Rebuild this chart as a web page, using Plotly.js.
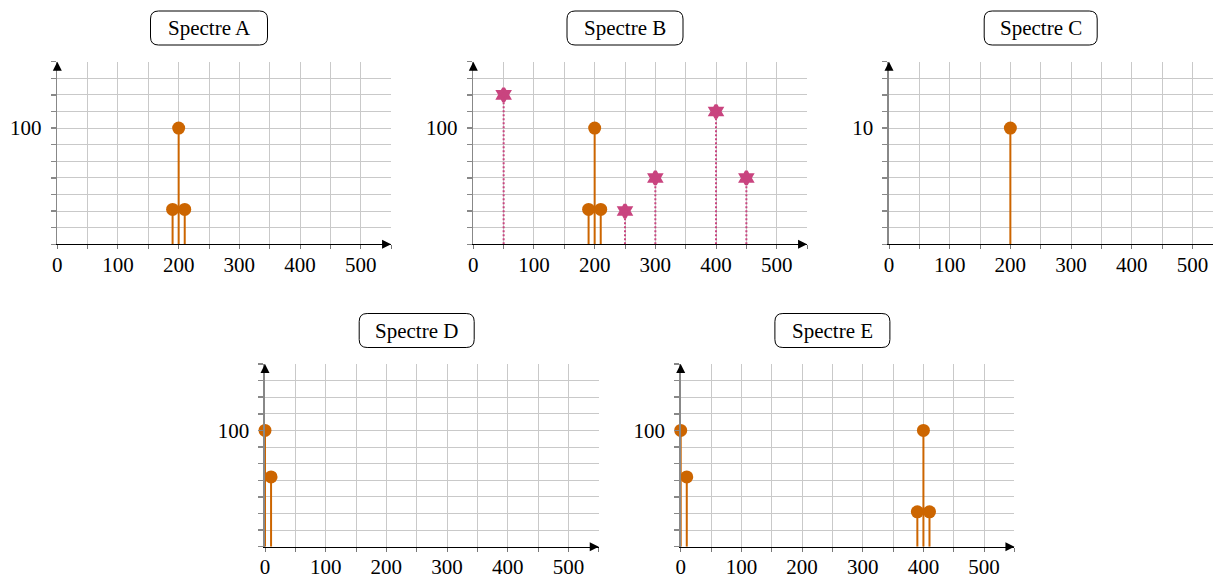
<!DOCTYPE html>
<html>
<head>
<meta charset="utf-8">
<script src="https://cdn.plot.ly/plotly-3.0.1.min.js"></script>
<style>html,body{margin:0;padding:0;background:#fff;}#chart{width:1213px;height:579px;}</style>
</head>
<body>
<div id="chart"></div>
<script>
// ---- data ----
const panelTitles = ["Spectre A", "Spectre B", "Spectre C", "Spectre D", "Spectre E"];
const yTickLabels = ["100", "100", "10", "100", "100"];
const yTickValues = [100, 100, 10, 100, 100];

const spectreA_x = [190, 200, 210];
const spectreA_y = [30, 100, 30];

const spectreB_x = [190, 200, 210];
const spectreB_y = [30, 100, 30];
const spectreB_pink_x = [50, 250, 300, 400, 450];
const spectreB_pink_y = [128.6, 28.6, 57.1, 114.3, 57.1];

const spectreC_x = [200];
const spectreC_y = [10];

const spectreD_x = [0, 10];
const spectreD_y = [100, 60];

const spectreE_x = [0, 10, 390, 400, 410];
const spectreE_y = [100, 60, 30, 100, 30];

const xTickValues = [0, 100, 200, 300, 400, 500];

// ---- layout geometry (pixels) ----
const W = 1213, H = 579;
const pxPerUnit = 0.6068;
const panels = [
  {x0: 57.3, top: 61.7, bottom: 244.3, xmax: 550},
  {x0: 473.3, top: 61.7, bottom: 244.3, xmax: 550},
  {x0: 889.0, top: 61.7, bottom: 244.3, xmax: null},
  {x0: 265.0, top: 364.0, bottom: 546.7, xmax: 550},
  {x0: 680.7, top: 364.0, bottom: 546.7, xmax: 550}
];
const titleY = [28, 28, 28, 330.5, 330.5];
const boxW = [117, 116, 113, 115, 115];
const boxH = 34;

const orange = "#cc6500";
const pink = "#c9447f";
const fontFam = "Liberation Serif, Times New Roman, serif";

function stems(xs, ys) {
  const sx = [], sy = [];
  xs.forEach((x, i) => { sx.push(x, x, null); sy.push(0, ys[i], null); });
  return {sx, sy};
}

const series = [
  [{x: spectreA_x, y: spectreA_y, kind: "o"}],
  [{x: spectreB_x, y: spectreB_y, kind: "o"}, {x: spectreB_pink_x, y: spectreB_pink_y, kind: "p"}],
  [{x: spectreC_x, y: spectreC_y, kind: "o"}],
  [{x: spectreD_x, y: spectreD_y, kind: "o"}],
  [{x: spectreE_x, y: spectreE_y, kind: "o"}]
];

const traces = [];
const layout = {
  width: W, height: H,
  margin: {l: 0, r: 0, t: 0, b: 0},
  paper_bgcolor: "#fff", plot_bgcolor: "#fff",
  showlegend: false,
  font: {family: fontFam, size: 21, color: "#000"},
  annotations: [], shapes: []
};

panels.forEach((p, i) => {
  const n = i + 1;
  const xa = "x" + (n === 1 ? "" : n), ya = "y" + (n === 1 ? "" : n);
  const xk = "xaxis" + (n === 1 ? "" : n), yk = "yaxis" + (n === 1 ? "" : n);
  const x1px = p.xmax === null ? W : p.x0 + p.xmax * pxPerUnit;
  const xmax = p.xmax === null ? (W - p.x0) / pxPerUnit : p.xmax;
  const yv = yTickValues[i];
  const ystep = yv / 7;
  const ymax = ystep * 11;

  layout[xk] = {
    domain: [p.x0 / W, x1px / W], anchor: ya,
    range: [0, xmax], fixedrange: true,
    tickmode: "array", tickvals: xTickValues, ticktext: xTickValues.map(String),
    ticks: "outside", ticklen: 4, tickcolor: "#777", tickwidth: 1,
    showgrid: true, gridcolor: "#c9c9c9", gridwidth: 1,
    minor: {tickmode: "linear", tick0: 0, dtick: 50, ticks: "outside", ticklen: 4, tickcolor: "#777", showgrid: true, gridcolor: "#c9c9c9", gridwidth: 1},
    showline: true, linecolor: "#000", linewidth: 1,
    zeroline: false, ticklabelstandoff: -3
  };
  layout[yk] = {
    domain: [1 - p.bottom / H, 1 - p.top / H], anchor: xa,
    range: [0, ymax], fixedrange: true,
    tickmode: "array", tickvals: [yv], ticktext: [yTickLabels[i]],
    ticks: "outside", ticklen: 5, tickcolor: "#888", tickwidth: 1.5,
    showgrid: true, gridcolor: "#c9c9c9", gridwidth: 1,
    minor: {tickmode: "linear", tick0: 0, dtick: ystep, ticks: "outside", ticklen: 5, tickcolor: "#888", tickwidth: 1.5, showgrid: true, gridcolor: "#c9c9c9", gridwidth: 1},
    showline: true, linecolor: "#888", linewidth: 1.6,
    zeroline: false, ticklabelstandoff: 5
  };

  series[i].forEach(s => {
    const st = stems(s.x, s.y);
    const col = s.kind === "o" ? orange : pink;
    traces.push({
      type: "scatter", mode: "lines", x: st.sx, y: st.sy, xaxis: xa, yaxis: ya,
      line: {color: col, width: 2, dash: s.kind === "o" ? "solid" : "2px,2px"},
      hoverinfo: "skip", cliponaxis: false
    });
    traces.push({
      type: "scatter", mode: "markers", x: s.x, y: s.y, xaxis: xa, yaxis: ya,
      marker: s.kind === "o"
        ? {color: col, size: 13, symbol: "circle", line: {width: 0}}
        : {color: col, size: 10, symbol: "hexagram", line: {width: 3, color: col}},
      cliponaxis: false
    });
  });

  // axis arrowheads
  layout.annotations.push({
    xref: xa, yref: ya, x: 0, y: ymax, ax: 0, ay: 10, text: "", showarrow: true,
    arrowhead: 2, arrowsize: 1.8, arrowwidth: 1, arrowcolor: "#000"
  });
  if (p.xmax !== null) {
    layout.annotations.push({
      xref: xa, yref: ya, x: xmax, y: 0, ax: -10, ay: 0, text: "", showarrow: true,
      arrowhead: 2, arrowsize: 1.8, arrowwidth: 1, arrowcolor: "#000"
    });
  }

  // title box
  const cx = p.x0 + 250 * pxPerUnit, cy = titleY[i];
  const bx0 = (cx - boxW[i] / 2) / W, bx1 = (cx + boxW[i] / 2) / W;
  const by0 = 1 - (cy + boxH / 2) / H, by1 = 1 - (cy - boxH / 2) / H;
  const rx = 8 / W, ry = 8 / H;
  layout.shapes.push({
    type: "path", xref: "paper", yref: "paper",
    path: `M ${bx0 + rx},${by1} L ${bx1 - rx},${by1} Q ${bx1},${by1} ${bx1},${by1 - ry} L ${bx1},${by0 + ry} Q ${bx1},${by0} ${bx1 - rx},${by0} L ${bx0 + rx},${by0} Q ${bx0},${by0} ${bx0},${by0 + ry} L ${bx0},${by1 - ry} Q ${bx0},${by1} ${bx0 + rx},${by1} Z`,
    line: {color: "#000", width: 1}, fillcolor: "#fff"
  });
  layout.annotations.push({
    xref: "paper", yref: "paper", x: cx / W, y: 1 - cy / H,
    xanchor: "center", yanchor: "middle", text: panelTitles[i], showarrow: false,
    font: {family: fontFam, size: 21, color: "#000"}
  });
});

Plotly.newPlot("chart", traces, layout, {staticPlot: true, displayModeBar: false});
</script>
</body>
</html>
